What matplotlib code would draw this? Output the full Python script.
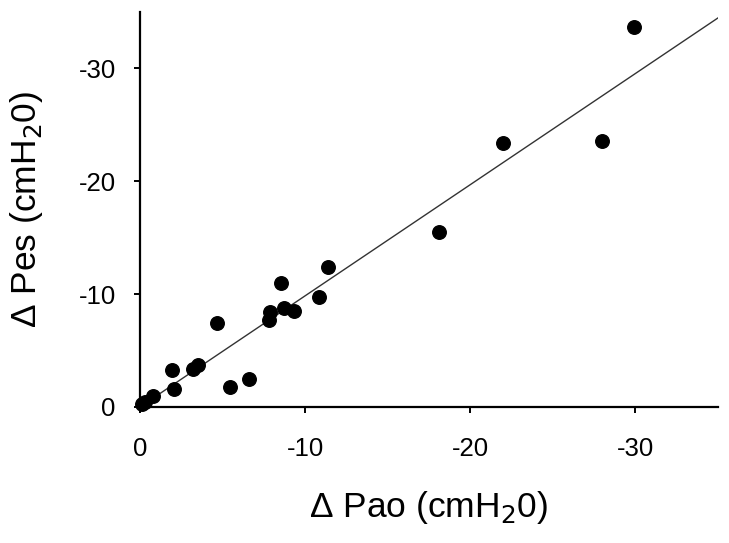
import matplotlib
matplotlib.use("Agg")
import matplotlib.pyplot as plt
import numpy as np

plt.rcParams['font.family'] = ['Liberation Sans', 'DejaVu Sans']
plt.rcParams['axes.unicode_minus'] = False

# Data (cmH2O)
pao = [-0.1, -0.3, -0.77, -1.92, -2.06, -3.2, -3.5, -4.65, -5.45, -6.6,
       -7.84, -7.88, -8.55, -8.75, -9.3, -10.85, -11.4, -18.1, -22.0, -28.0, -29.9]
pes = [-0.3, -0.47, -0.97, -3.26, -1.55, -3.4, -3.7, -7.46, -1.79, -2.5,
       -7.73, -8.4, -11.0, -8.75, -8.46, -9.78, -12.4, -15.5, -23.4, -23.6, -33.7]
fit_slope = 0.985
fit_intercept = 0.0
fit_x = [0, -35]
ticks = [0, -10, -20, -30]

fig = plt.figure(figsize=(7.29, 5.43), dpi=100)
ax = fig.add_axes([0.192, 0.2505, 0.793, 0.7275])

fx = np.array(fit_x, dtype=float)
ax.plot(fx, fit_slope * fx + fit_intercept, color='#333333', lw=1.0, zorder=2)
ax.scatter(pao, pes, s=95, color='black', zorder=3, clip_on=False)

ax.set_xlim(0, -35)
ax.set_ylim(0, -35)
ax.set_xticks(ticks)
ax.set_yticks(ticks)
ax.set_xticklabels([str(t) for t in ticks])
ax.set_yticklabels([str(t) for t in ticks])

for s in ['top', 'right']:
    ax.spines[s].set_visible(False)
for s in ['left', 'bottom']:
    ax.spines[s].set_linewidth(1.6)
    ax.spines[s].set_color('black')
ax.tick_params(direction='out', length=4.5, width=1.4, labelsize=18.5, colors='black')
ax.tick_params(axis='x', pad=17)
ax.tick_params(axis='y', pad=13)

ax.set_xlabel('Δ Pao (cmH$_2$0)', fontsize=25.5, labelpad=20)
ax.set_ylabel('Δ Pes (cmH$_2$0)', fontsize=25.5, labelpad=24)

fig.savefig('out.png', dpi=100)
